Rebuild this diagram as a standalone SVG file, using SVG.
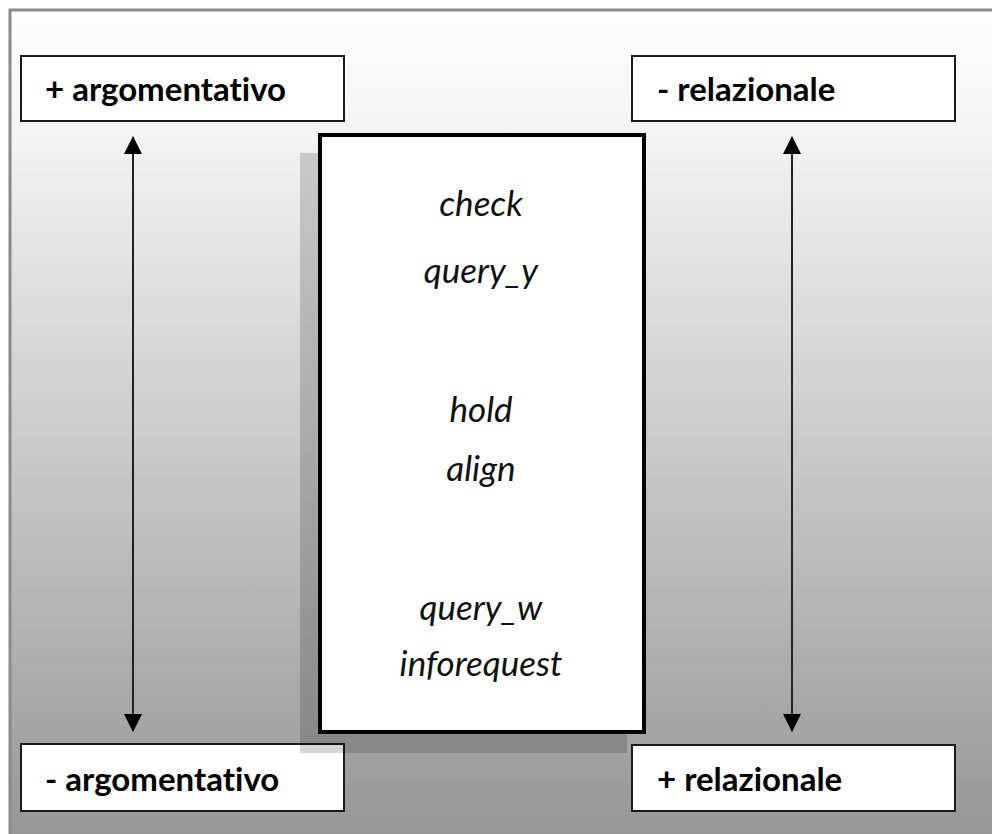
<svg xmlns="http://www.w3.org/2000/svg" width="992" height="834" viewBox="0 0 992 834">
  <style>
    .box { fill: #ffffff; stroke: #1a1a1a; stroke-width: 2; }
    .lbl { font-family: Lato, "Open Sans", "Liberation Sans", sans-serif; font-weight: bold; font-size: 33px; fill: #000; font-variant-ligatures: none; }
    .item { font-family: Lato, "Open Sans", "Liberation Sans", sans-serif; font-style: italic; font-size: 35px; fill: #111; text-anchor: middle; font-variant-ligatures: none; }
    .conn { stroke: #222; stroke-width: 2; fill: none; marker-start: url(#head); marker-end: url(#head); }
  </style>
  <defs>
    <linearGradient id="bg" x1="0" y1="0" x2="0" y2="1">
      <stop offset="0" stop-color="#fefefe"/>
      <stop offset="0.12" stop-color="#f6f6f6"/>
      <stop offset="1" stop-color="#979797"/>
    </linearGradient>
    <marker id="head" viewBox="0 0 18 18" refX="17" refY="9" markerWidth="18" markerHeight="18" markerUnits="userSpaceOnUse" orient="auto-start-reverse">
      <path d="M0,0 L18,9 L0,18 Z" fill="#000"/>
    </marker>
  </defs>

  <!-- background panel -->
  <rect x="0" y="0" width="992" height="834" fill="#ffffff"/>
  <rect x="10" y="10" width="982" height="824" fill="url(#bg)"/>
  <path d="M10,834 V10 H992" fill="none" stroke="#8a8a8a" stroke-width="3"/>

  <!-- corner labels -->
  <g id="arg-plus">
    <rect class="box" x="21" y="56" width="323" height="65"/>
    <text class="lbl" x="45" y="101">+ argomentativo</text>
  </g>
  <g id="rel-minus">
    <rect class="box" x="632" y="56" width="323" height="65"/>
    <text class="lbl" x="657" y="101">- relazionale</text>
  </g>
  <g id="arg-minus">
    <rect class="box" x="21" y="744" width="323" height="67"/>
    <text class="lbl" x="45" y="791">- argomentativo</text>
  </g>
  <g id="rel-plus">
    <rect class="box" x="632" y="745" width="323" height="66"/>
    <text class="lbl" x="657" y="791">+ relazionale</text>
  </g>

  <!-- central list with drop shadow -->
  <g id="acts">
    <rect x="300" y="153" width="327" height="600" fill="#000" fill-opacity="0.16"/>
    <rect x="320" y="135" width="324" height="597" fill="#fff" stroke="#000" stroke-width="4"/>
    <text class="item" x="481" y="216">check</text>
    <text class="item" x="481" y="283">query_y</text>
    <text class="item" x="481" y="422">hold</text>
    <text class="item" x="481" y="481">align</text>
    <text class="item" x="481" y="620">query_w</text>
    <text class="item" x="481" y="676">inforequest</text>
  </g>

  <!-- double-headed scale arrows -->
  <g id="connectors">
    <line class="conn" x1="133" y1="137" x2="133" y2="731"/>
    <line class="conn" x1="792" y1="137" x2="792" y2="731"/>
  </g>
</svg>
